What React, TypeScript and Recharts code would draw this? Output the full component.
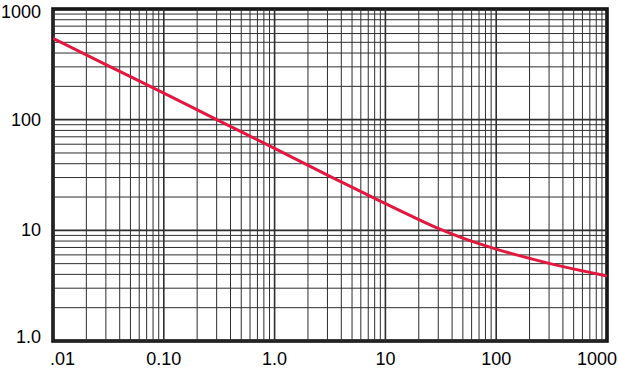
import React from 'react';
import {
  LineChart,
  Line,
  XAxis,
  YAxis,
  ReferenceLine,
  ReferenceArea,
} from 'recharts';

// curve (log-log)
const xValues = [0.01, 0.03, 0.1, 0.3, 1, 3, 10, 20, 30, 50, 100, 300, 1000];
const yValues = [542, 314, 174, 100, 55, 31.5, 17.4, 12.5, 10.4, 8.5, 6.77, 5.03, 3.87];

const xTicks = [0.01, 0.1, 1, 10, 100, 1000];
const xTickLabels = ['.01', '0.10', '1.0', '10', '100', '1000'];
const yTicks = [1, 10, 100, 1000];
const yTickLabels = ['1.0', '10', '100', '1000'];

const xDecades = [0.01, 0.1, 1, 10, 100];
const yDecades = [1, 10, 100];
const steps = [1, 2, 3, 4, 5, 6, 7, 8, 9];

const data = xValues.map((x, i) => ({ x, y: yValues[i] }));

const xGrid = [...xDecades.flatMap((d) => steps.map((s) => +(d * s).toPrecision(3))), 1000];
const yGrid = [...yDecades.flatMap((d) => steps.map((s) => +(d * s).toPrecision(3))), 1000];

const FONT = "Arial, 'Liberation Sans', Helvetica, sans-serif";

// eslint-disable-next-line @typescript-eslint/no-explicit-any
const renderXTick = (props: any) => {
  const { x, y, payload, index } = props;
  const i = xTicks.indexOf(payload.value);
  const label = i >= 0 ? xTickLabels[i] : '';
  let anchor: 'start' | 'middle' | 'end' = 'middle';
  let dx = 0;
  if (i === 0) {
    anchor = 'start';
    dx = -3;
  } else if (i === xTicks.length - 1) {
    anchor = 'end';
    dx = 10;
  }
  return (
    <text
      key={`xt-${index}`}
      x={x + dx}
      y={y + 22}
      textAnchor={anchor}
      fontSize={18}
      fontFamily={FONT}
      fill="#000"
    >
      {label}
    </text>
  );
};

// eslint-disable-next-line @typescript-eslint/no-explicit-any
const renderYTick = (props: any) => {
  const { x, y, payload, index } = props;
  const i = yTicks.indexOf(payload.value);
  const label = i >= 0 ? yTickLabels[i] : '';
  let dy = 6;
  if (i === yTicks.length - 1) dy = 9;
  if (i === 0) dy = 2;
  return (
    <text
      key={`yt-${index}`}
      x={x - 10}
      y={y + dy}
      textAnchor="end"
      fontSize={18}
      fontFamily={FONT}
      fill="#000"
    >
      {label}
    </text>
  );
};

export default function App() {
  return (
    <div style={{ position: 'absolute', left: 0, top: 0, width: 618, height: 369, background: '#fff' }}>
      <LineChart
        width={618}
        height={369}
        data={data}
        margin={{ top: 9, right: 11, bottom: 0, left: 0 }}
      >
        <XAxis
          dataKey="x"
          type="number"
          scale="log"
          domain={[0.01, 1000]}
          ticks={xTicks}
          allowDataOverflow
          axisLine={false}
          tickLine={false}
          tickSize={0}
          height={28}
          interval={0}
          tick={renderXTick}
        />
        <YAxis
          dataKey="y"
          type="number"
          scale="log"
          domain={[1, 1000]}
          ticks={yTicks}
          allowDataOverflow
          axisLine={false}
          tickLine={false}
          tickSize={0}
          width={53}
          interval={0}
          tick={renderYTick}
        />
        {xGrid.map((v) => (
          <ReferenceLine
            key={`gx-${v}`}
            x={v}
            stroke="#2e2e2e"
            strokeWidth={xDecades.includes(v) ? 1.6 : 1}
          />
        ))}
        {yGrid.map((v) => (
          <ReferenceLine
            key={`gy-${v}`}
            y={v}
            stroke="#2e2e2e"
            strokeWidth={yDecades.includes(v) ? 1.6 : 1}
          />
        ))}
        <Line
          dataKey="y"
          type="monotone"
          stroke="#e2183f"
          strokeWidth={3}
          dot={false}
          isAnimationActive={false}
        />
        <ReferenceArea
          x1={0.01}
          x2={1000}
          y1={1}
          y2={1000}
          fill="none"
          stroke="#000"
          strokeWidth={3.5}
        />
      </LineChart>
    </div>
  );
}
